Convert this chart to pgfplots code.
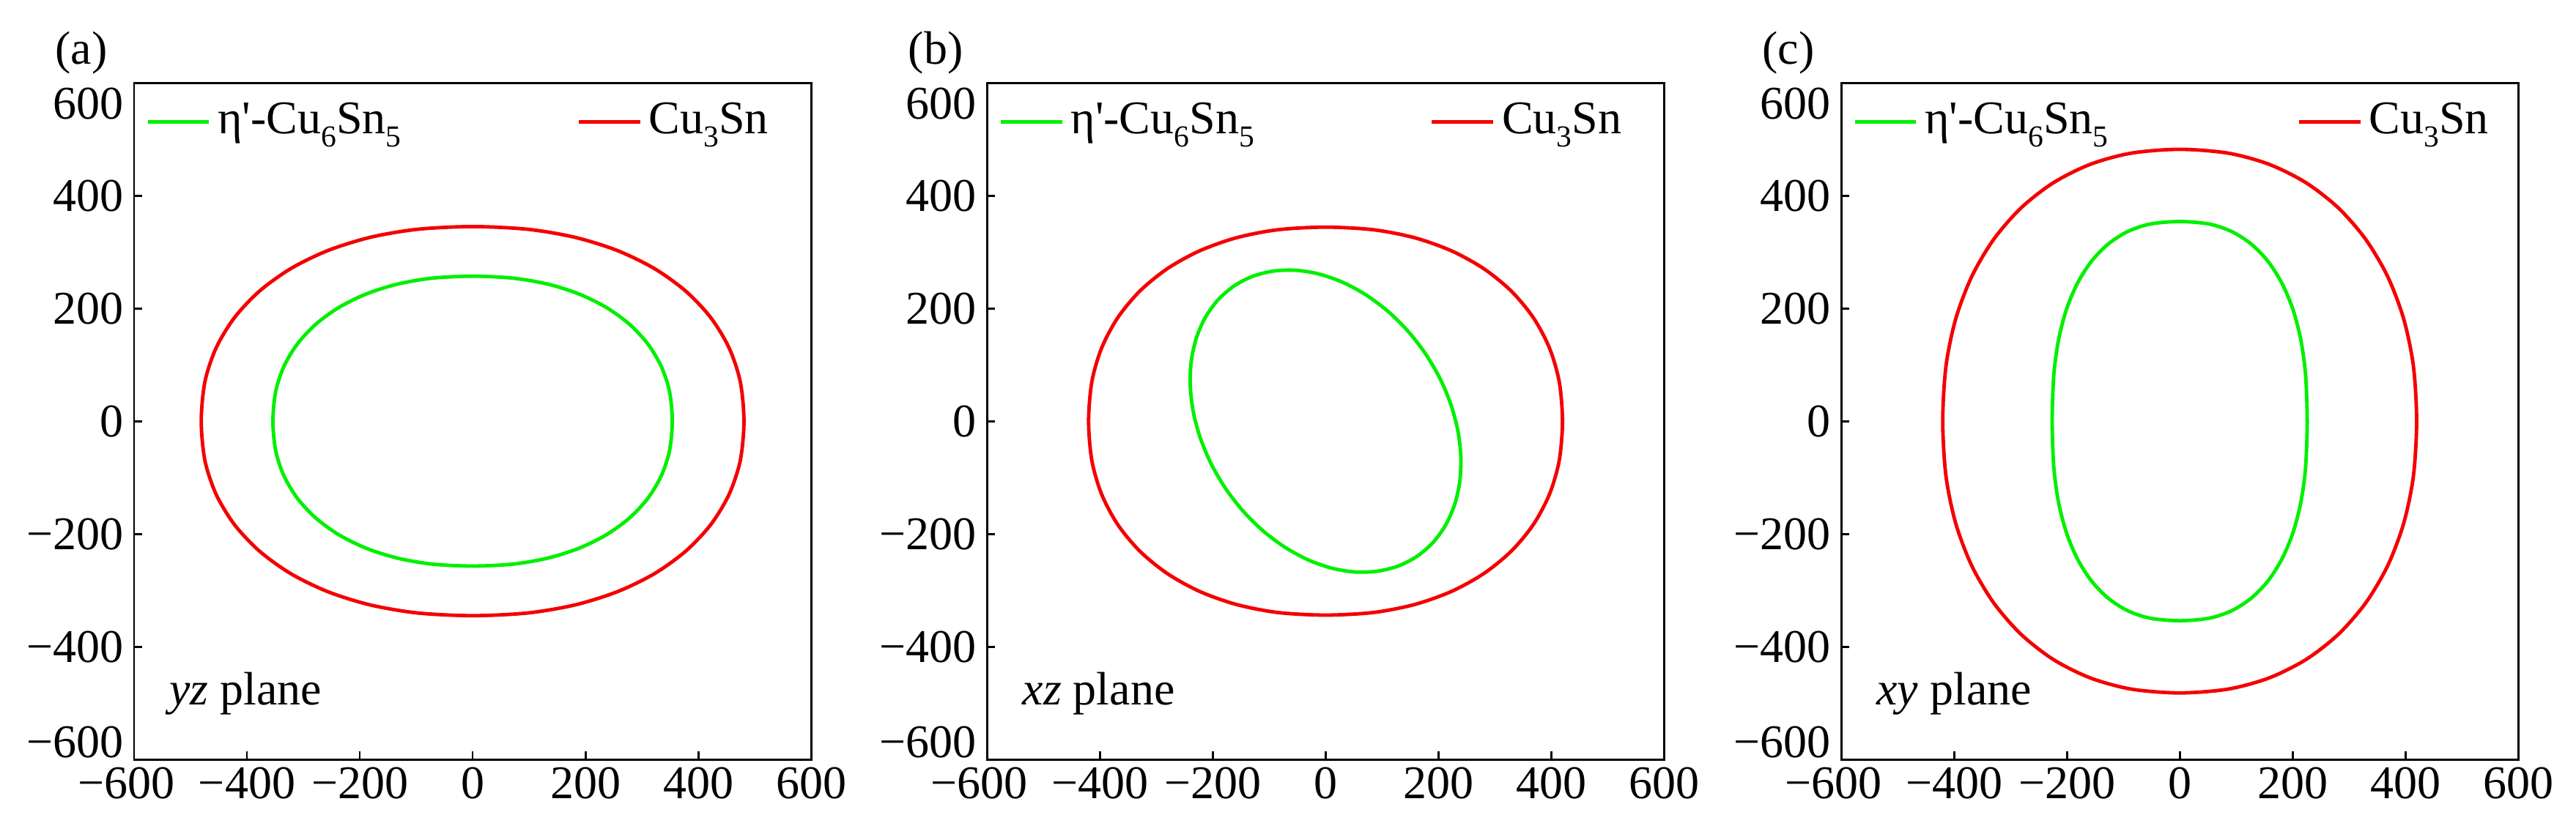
\documentclass[border=0pt]{standalone}
\usepackage{fontspec}
\setmainfont{Liberation Serif}
\usepackage{pgfplots}
\pgfplotsset{compat=1.18}
\definecolor{cgreen}{RGB}{0,240,0}
\definecolor{cred}{RGB}{245,0,0}
\newcommand{\sub}[1]{\raisebox{-2.8pt}{\fontsize{6.5}{7}\selectfont #1}}
\pgfplotsset{
  panel/.style={
    scale only axis, width=144.375pt, height=144.375pt,
    anchor=south west,
    xmin=-600, xmax=600, ymin=-600, ymax=600,
    xtick={-600,-400,-200,0,200,400,600},
    ytick={-600,-400,-200,0,200,400,600},
    xticklabels={\hspace*{-3.4pt}−600,−400,−200,0,200,400,600},
    yticklabels={\raisebox{0.4pt}[0pt][0pt]{−600},−400,−200,0,200,400,\raisebox{-7.8pt}[0pt][0pt]{600}},
    tick align=inside, tick pos=left, major tick length=1.7pt,
    line width=0.45pt,
    every tick/.style={black, line width=0.45pt},
    tick label style={font=\fontsize{10}{12}\selectfont},
    xticklabel style={inner ysep=1.4pt},
    yticklabel style={inner xsep=2pt},
    clip=false,
    legend columns=2,
    legend style={draw=none, fill=none, at={(rel axis cs:0,1)}, anchor=north west,
      xshift=2.3pt, yshift=-3.5pt, inner sep=0pt,
      /tikz/every even column/.append style={column sep=#1},
      font=\fontsize{10}{12}\selectfont,
      nodes={inner xsep=1.5pt, inner ysep=0.5pt}},
    legend image code/.code={\draw[##1, line width=0.75pt] (0pt,0pt) -- (13.1pt,0pt);},
  },
  curve/.style={line width=0.75pt, smooth cycle, mark=none},
}
\begin{document}
\begin{tikzpicture}
\useasboundingbox (0,0) rectangle (549.375pt,176.25pt);
% ---------------- (a) yz plane
\begin{axis}[panel=36pt, name=pa, at={(28.6pt,14.2pt)}]
\addplot[cgreen, curve] coordinates {
(354,0) (349.1,52.3) (334.5,96.9) (310.6,136.9) (277.8,172.0) (236.9,201.7) (188.5,225.5) (133.5,242.9) (72.1,253.5) (0,257)
(-72.1,253.5) (-133.5,242.9) (-188.5,225.5) (-236.9,201.7) (-277.8,172.0) (-310.6,136.9) (-334.5,96.9) (-349.1,52.3) (-354,0)
(-349.1,-52.3) (-334.5,-96.9) (-310.6,-136.9) (-277.8,-172.0) (-236.9,-201.7) (-188.5,-225.5) (-133.5,-242.9) (-72.1,-253.5) (0,-257)
(72.1,-253.5) (133.5,-242.9) (188.5,-225.5) (236.9,-201.7) (277.8,-172.0) (310.6,-136.9) (334.5,-96.9) (349.1,-52.3)
};
\addlegendentry{η\textquotesingle-Cu\sub{6}Sn\sub{5}}
\addplot[cred, curve] coordinates {
(481,0) (474.4,70.2) (454.5,130.1) (422.0,183.7) (377.5,230.8) (321.8,270.8) (256.1,302.7) (181.3,326.0) (97.9,340.2) (0,345)
(-97.9,340.2) (-181.3,326.0) (-256.1,302.7) (-321.8,270.8) (-377.5,230.8) (-422.0,183.7) (-454.5,130.1) (-474.4,70.2) (-481,0)
(-474.4,-70.2) (-454.5,-130.1) (-422.0,-183.7) (-377.5,-230.8) (-321.8,-270.8) (-256.1,-302.7) (-181.3,-326.0) (-97.9,-340.2) (0,-345)
(97.9,-340.2) (181.3,-326.0) (256.1,-302.7) (321.8,-270.8) (377.5,-230.8) (422.0,-183.7) (454.5,-130.1) (474.4,-70.2)
};
\addlegendentry{Cu\sub{3}Sn}
\node[anchor=base west, inner sep=0pt, font=\fontsize{10}{12}\selectfont] at (axis cs:-539,-503) {\textit{yz} plane};
\end{axis}
\node[anchor=base west, inner sep=0pt, xshift=-17pt, yshift=4pt, font=\fontsize{10}{12}\selectfont] at (pa.north west) {(a)};
% ---------------- (b) xz plane
\begin{axis}[panel=36pt, name=pb, at={(210.5pt,14.2pt)}]
\addplot[cgreen, curve] coordinates {
(162.2,-239.7) (190.4,-215.3) (212.9,-184.3) (228.9,-147.7) (238.0,-106.7) (239.8,-62.4) (234.4,-16.2) (221.8,30.5) (202.5,76.3) (177.0,119.7)
(146.2,159.5) (110.9,194.5) (72.2,223.5) (31.4,245.8) (-10.4,260.6) (-51.9,267.5) (-91.8,266.2) (-129.0,256.9) (-162.2,239.7)
(-190.4,215.3) (-212.9,184.3) (-228.9,147.7) (-238.0,106.7) (-239.8,62.4) (-234.4,16.2) (-221.8,-30.5) (-202.5,-76.3) (-177.0,-119.7)
(-146.2,-159.5) (-110.9,-194.5) (-72.2,-223.5) (-31.4,-245.8) (10.4,-260.6) (51.9,-267.5) (91.8,-266.2) (129.0,-256.9)
};
\addlegendentry{η\textquotesingle-Cu\sub{6}Sn\sub{5}}
\addplot[cred, curve] coordinates {
(420,0) (414.2,70.0) (396.9,129.7) (368.5,183.2) (329.6,230.2) (281.0,270.0) (223.7,301.8) (158.3,325.1) (85.5,339.3) (0,344)
(-85.5,339.3) (-158.3,325.1) (-223.7,301.8) (-281.0,270.0) (-329.6,230.2) (-368.5,183.2) (-396.9,129.7) (-414.2,70.0) (-420,0)
(-414.2,-70.0) (-396.9,-129.7) (-368.5,-183.2) (-329.6,-230.2) (-281.0,-270.0) (-223.7,-301.8) (-158.3,-325.1) (-85.5,-339.3) (0,-344)
(85.5,-339.3) (158.3,-325.1) (223.7,-301.8) (281.0,-270.0) (329.6,-230.2) (368.5,-183.2) (396.9,-129.7) (414.2,-70.0)
};
\addlegendentry{Cu\sub{3}Sn}
\node[anchor=base west, inner sep=0pt, font=\fontsize{10}{12}\selectfont] at (axis cs:-539,-503) {\textit{xz} plane};
\end{axis}
\node[anchor=base west, inner sep=0pt, xshift=-17pt, yshift=4pt, font=\fontsize{10}{12}\selectfont] at (pb.north west) {(b)};
% ---------------- (c) xy plane
\begin{axis}[panel=38.8pt, name=pc, at={(392.66pt,14.2pt)}]
\addplot[cgreen, curve] coordinates {
(226,0) (223.1,82.3) (214.6,144.8) (200.5,198.7) (181.0,244.9) (156.4,283.5) (126.8,314.0) (92.4,336.1) (52.5,349.5) (0,354)
(-52.5,349.5) (-92.4,336.1) (-126.8,314.0) (-156.4,283.5) (-181.0,244.9) (-200.5,198.7) (-214.6,144.8) (-223.1,82.3) (-226,0)
(-223.1,-82.3) (-214.6,-144.8) (-200.5,-198.7) (-181.0,-244.9) (-156.4,-283.5) (-126.8,-314.0) (-92.4,-336.1) (-52.5,-349.5) (0,-354)
(52.5,-349.5) (92.4,-336.1) (126.8,-314.0) (156.4,-283.5) (181.0,-244.9) (200.5,-198.7) (214.6,-144.8) (223.1,-82.3)
};
\addlegendentry{η\textquotesingle-Cu\sub{6}Sn\sub{5}}
\addplot[cred, curve] coordinates {
(420,0) (414.2,98.1) (396.9,181.7) (368.5,256.7) (329.6,322.5) (281.0,378.3) (223.7,422.9) (158.3,455.5) (85.5,475.3) (0,482)
(-85.5,475.3) (-158.3,455.5) (-223.7,422.9) (-281.0,378.3) (-329.6,322.5) (-368.5,256.7) (-396.9,181.7) (-414.2,98.1) (-420,0)
(-414.2,-98.1) (-396.9,-181.7) (-368.5,-256.7) (-329.6,-322.5) (-281.0,-378.3) (-223.7,-422.9) (-158.3,-455.5) (-85.5,-475.3) (0,-482)
(85.5,-475.3) (158.3,-455.5) (223.7,-422.9) (281.0,-378.3) (329.6,-322.5) (368.5,-256.7) (396.9,-181.7) (414.2,-98.1)
};
\addlegendentry{Cu\sub{3}Sn}
\node[anchor=base west, inner sep=0pt, font=\fontsize{10}{12}\selectfont] at (axis cs:-539,-503) {\textit{xy} plane};
\end{axis}
\node[anchor=base west, inner sep=0pt, xshift=-17pt, yshift=4pt, font=\fontsize{10}{12}\selectfont] at (pc.north west) {(c)};
\end{tikzpicture}
\end{document}
